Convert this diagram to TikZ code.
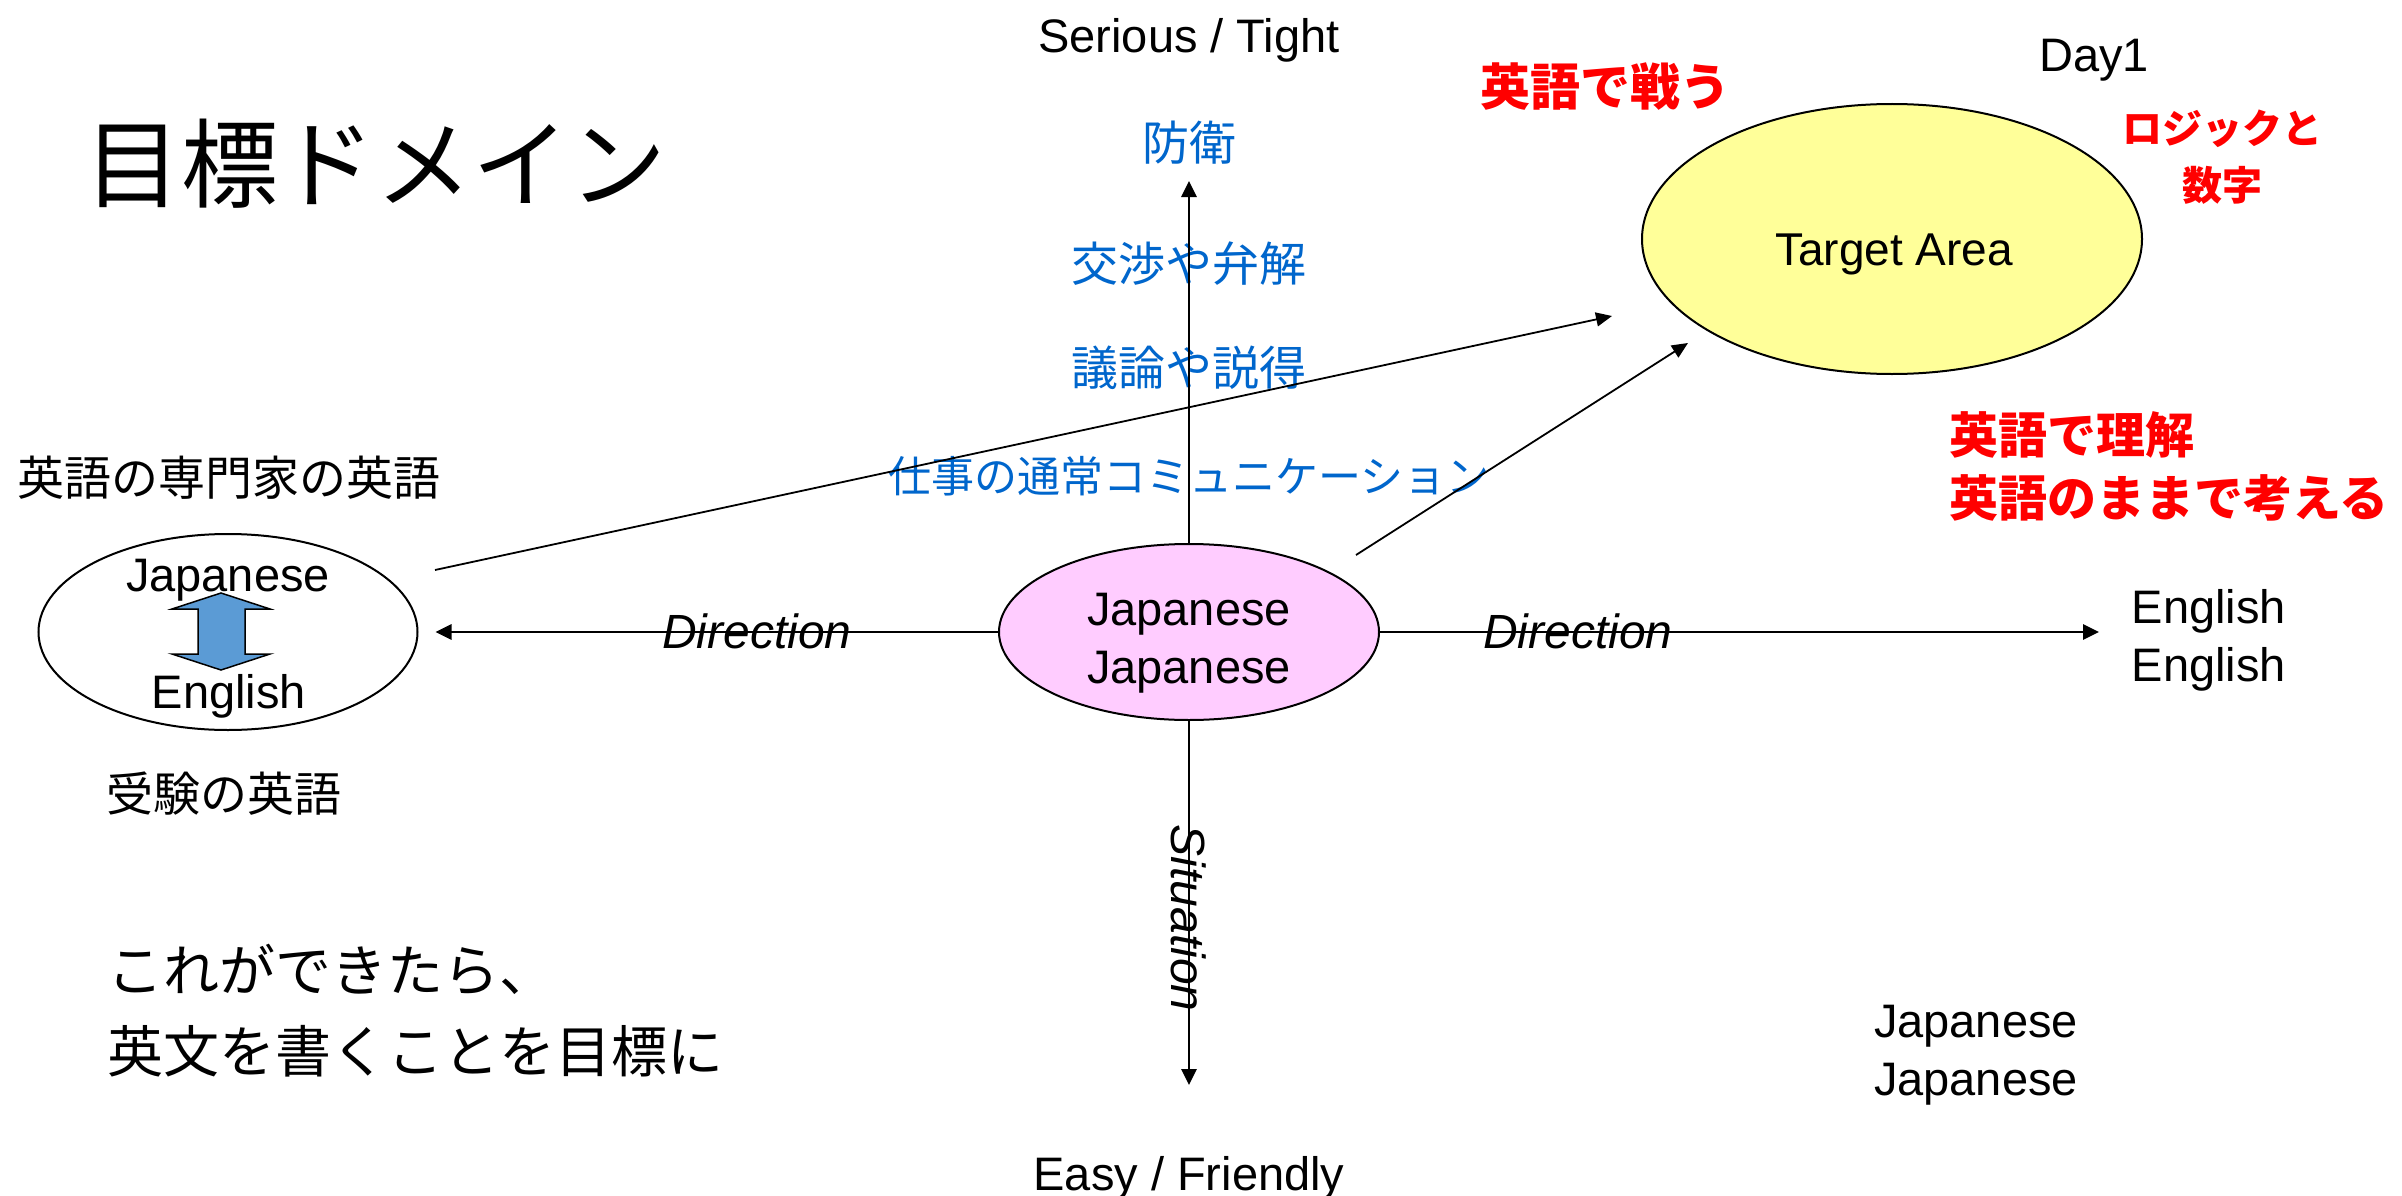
\documentclass[tikz,border=0pt]{standalone}
\usepackage{fontspec}
\setmainfont{Liberation Sans}
\newfontfamily\jp{Noto Sans CJK JP}
\usetikzlibrary{arrows.meta,shapes.geometric}
\definecolor{jpblue}{HTML}{0066CC}
\definecolor{jpred}{HTML}{FF0000}
\definecolor{pinkfill}{HTML}{FFCCFF}
\definecolor{yellowfill}{HTML}{FFFF99}
\definecolor{arrowblue}{HTML}{5B9BD5}
\begin{document}
\begin{tikzpicture}[x=1pt,y=-1pt,
  en/.style={font=\fontsize{47}{58}\selectfont, inner sep=0pt, align=center},
  enit/.style={font=\itshape\fontsize{48}{58}\selectfont, inner sep=0pt},
  jpk/.style={font=\jp\fontsize{47}{58}\selectfont, inner sep=0pt},
  bluet/.style={font=\jp\fontsize{47}{56}\selectfont, text=jpblue, inner sep=0pt},
  redt/.style={font=\jp\bfseries\fontsize{49}{63}\selectfont, text=jpred, inner sep=0pt, align=left},
  axisline/.style={line width=2.8pt, -{Triangle[length=16pt,width=15pt]}},
  diagline/.style={line width=1.8pt, -{Triangle[length=16pt,width=14pt]}},
  ell/.style={ellipse, draw, line width=2pt, inner sep=0pt}
]
\useasboundingbox (0,0) rectangle (2402,1196);
\fill[white] (0,0) rectangle (2402,1196);

% title
\node[font=\jp\fontsize{97}{110}\selectfont, inner sep=0pt, anchor=west] (title) at (84,164) {目標ドメイン};

% axis labels
\node[en] (serious) at (1189,40) {Serious / Tight};
\node[en] (easy) at (1189,1178) {Easy / Friendly};
\node[en] (day) at (2094,60) {Day1};

% blue labels
\node[bluet] (bouei) at (1189,143) {防衛};
\node[bluet] (koushou) at (1189,264) {交渉や弁解};
\node[bluet] (giron) at (1189,368) {議論や説得};
\node[bluet, font=\jp\fontsize{43}{56}\selectfont] (shigoto) at (1189,476) {仕事の通常コミュニケーション};

% red labels
\node[redt, font=\jp\bfseries\fontsize{50}{63}\selectfont] (tatakau) at (1605,87) {英語で戦う};
\node[redt, font=\jp\bfseries\fontsize{40}{57}\selectfont, align=center] (logic) at (2222,157) {ロジックと\\数字};
\node[redt, anchor=west] (rikai) at (1949,466) {英語で理解\\英語のままで考える};

% black Japanese labels
\node[jpk] (senmon) at (229,478) {英語の専門家の英語};
\node[jpk] (juken) at (224,794) {受験の英語};
\node[font=\jp\fontsize{56}{81}\selectfont, inner sep=0pt, anchor=west, align=left] (goal) at (107,1011) {これができたら、\\英文を書くことを目標に};

% right side texts
\node[en] (jj) at (1976,1055) {Japanese\\Japanese};
\node[en] (ee) at (2209,640) {English\\English};

% ellipses
\node[ell, fill=pinkfill, minimum width=380pt, minimum height=176pt] (ctr) at (1189,632) {};
\node[en] (ctrt) at (1189,643) {Japanese\\Japanese};
\node[ell, fill=white, minimum width=379pt, minimum height=196pt] (lft) at (228,632) {};
\node[ell, fill=yellowfill, minimum width=500pt, minimum height=270pt] (tgt) at (1892,239) {};
\node[en, font=\fontsize{46}{58}\selectfont] (tgtt) at (1894,254) {Target Area};

% left ellipse content
\node[en] (lftj) at (228,580) {Japanese};
\node[en] (lfte) at (229,696) {English};
\draw[fill=arrowblue, line width=1.5pt, line join=miter]
  (221,593) -- (270,609) -- (245,609) -- (245,654) -- (270,654) -- (221,670)
  -- (172,654) -- (198,654) -- (198,609) -- (172,609) -- cycle;

% axes
\coordinate (topend) at (1189,181);
\coordinate (botend) at (1189,1085);
\coordinate (rightend) at (2099,632);
\draw[axisline] (ctr.north) -- (topend);
\draw[axisline] (ctr.south) -- (botend);
\draw[axisline, shorten >=17pt] (ctr.west) -- (lft.east);
\draw[axisline] (ctr.east) -- (rightend);

% axis labels on lines
\node[enit] (dirl) at (757,631) {Direction};
\node[enit] (dirr) at (1578,631) {Direction};
\node[enit, rotate=-90] (sit) at (1189,918) {Situation};

% diagonal arrows
\coordinate (d1s) at (435,570);
\coordinate (d1e) at (1612,316);
\coordinate (d2s) at (1356,555);
\coordinate (d2e) at (1688,343);
\draw[diagline] (d1s) -- (d1e);
\draw[diagline] (d2s) -- (d2e);
\end{tikzpicture}
\end{document}
